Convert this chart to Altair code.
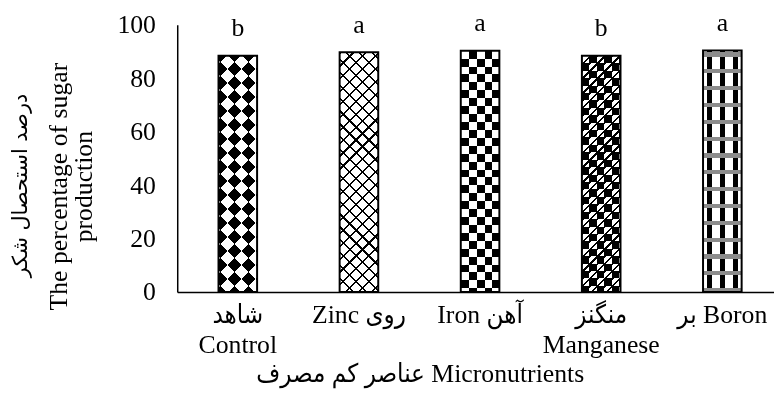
import math
import altair as alt
import pandas as pd

# ---------------- data ----------------
categories = ["Control", "Zinc", "Iron", "Manganese", "Boron"]
labels = ["شاهد|Control", "Zinc روی", "Iron آهن", "منگنز|Manganese", "بر Boron"]
values = [88.4, 89.7, 90.3, 88.4, 90.4]
letters = ["b", "a", "a", "b", "a"]
y_title_fa = "درصد استحصال شکر"
y_title_en = ["The percentage of sugar", "production"]
x_title = "عناصر کم مصرف Micronutrients"

df = pd.DataFrame({"cat": categories, "label": labels, "value": values, "letter": letters})

# ---------------- layout ----------------
FONT = "Liberation Serif, DejaVu Sans Condensed, DejaVu Sans"
FA_FONT = "DejaVu Sans"
PLOT_W = 603
PLOT_H = 270
RANGE_W = 612
STEP = RANGE_W / len(categories)
BAR_W = 39
P_IN = 1 - BAR_W / STEP

x = alt.X(
    "label:N",
    sort=labels,
    scale=alt.Scale(range=[0, RANGE_W], paddingInner=P_IN, paddingOuter=P_IN / 2),
    axis=alt.Axis(
        labelExpr="split(datum.label, '|')",
        labelAngle=0,
        labelBaseline="top",
        labelLineHeight=30,
        labelPadding=10,
        labelFontSize=26,
        labelFont=FONT,
        labelColor="black",
        ticks=False,
        domainColor="black",
        domainWidth=1.5,
        title=x_title,
        titleFont=FONT,
        titleFontSize=26,
        titleFontWeight="normal",
        titleColor="black",
        titleBaseline="alphabetic",
        titleX=245,
        titleY=90,
        grid=False,
    ),
)
y_scale = alt.Scale(domain=[0, 100])
y = alt.Y(
    "value:Q",
    scale=y_scale,
    axis=alt.Axis(
        orient="left",
        values=[0, 20, 40, 60, 80, 100],
        labelFontSize=26,
        labelFont=FONT,
        labelColor="black",
        labelPadding=22,
        ticks=False,
        domainColor="black",
        domainWidth=1.5,
        grid=False,
        title=y_title_en,
        titleFont=FONT,
        titleFontSize=26,
        titleFontWeight="normal",
        titleColor="black",
        titleAngle=270,
        titleAlign="center",
        titleBaseline="top",
        titleLineHeight=25,
        titleX=-133,
        titleY=163,
    ),
)
y_fa = alt.Y(
    "value:Q",
    scale=y_scale,
    axis=alt.Axis(
        orient="left",
        values=[0, 20, 40, 60, 80, 100],
        labels=False,
        ticks=False,
        domain=False,
        grid=False,
        title=y_title_fa,
        titleFont=FA_FONT,
        titleFontSize=21,
        titleFontWeight="normal",
        titleColor="black",
        titleAngle=270,
        titleAlign="center",
        titleBaseline="middle",
        titleX=-158,
        titleY=162,
    ),
)

CLEAR = "rgba(0,0,0,0)"


def stops(length, period, duty, on, off, phase=0.0):
    out = []
    k = -1
    while True:
        s0 = phase + k * period
        if s0 > length:
            break
        s1 = s0 + duty * period
        s2 = s0 + period
        for pos, col in ((s0, on), (s1, on), (s1, off), (s2, off)):
            p = min(max(pos / length, 0.0), 1.0)
            out.append({"offset": round(p, 5), "color": col})
        k += 1
    return out


def grad_x(w, period, duty, on, off, phase=0.0):
    return {"gradient": "linear", "x1": 0, "y1": 0, "x2": 1, "y2": 0,
            "stops": stops(w, period, duty, on, off, phase)}


def grad_y(h, period, duty, on, off, phase=0.0):
    return {"gradient": "linear", "x1": 0, "y1": 0, "x2": 0, "y2": 1,
            "stops": stops(h, period, duty, on, off, phase)}


def grad_diag(w, h, period, duty, on, off, flip=False, phase=0.0):
    c = (w + h) / (w * w + h * h)
    if not flip:
        g = {"x1": 0, "y1": 0, "x2": c * w, "y2": c * h}
    else:
        g = {"x1": 0, "y1": 1, "x2": c * w, "y2": 1 - c * h}
    g["gradient"] = "linear"
    g["stops"] = stops(w + h, period * math.sqrt(2), duty, on, off, phase)
    return g


base = alt.Chart(df)


def layer(cat, fill, blend=None):
    kw = {"fill": fill, "strokeWidth": 0}
    if blend:
        kw["blend"] = blend
    return base.transform_filter(alt.datum.cat == cat).mark_bar(**kw).encode(x=x, y=y)


bars = []
hv = {c: v / 100 * PLOT_H for c, v in zip(categories, values)}
W = BAR_W

# Control: coarse 45-degree checkerboard (white diamonds on black)
h = hv["Control"]
bars.append(layer("Control", grad_diag(W, h, 20, 0.5, "black", "white", phase=8)))
bars.append(layer("Control", grad_diag(W, h, 20, 0.5, "white", CLEAR, flip=True, phase=8), "difference"))

# Zinc: thin diagonal lattice on white
h = hv["Zinc"]
bars.append(layer("Zinc", "white"))
bars.append(layer("Zinc", grad_diag(W, h, 9.2, 0.17, "black", CLEAR)))
bars.append(layer("Zinc", grad_diag(W, h, 9.2, 0.17, "black", CLEAR, flip=True)))

# Iron: square checkerboard
h = hv["Iron"]
bars.append(layer("Iron", grad_x(W, 16, 0.5, "black", "white", 0)))
bars.append(layer("Iron", grad_y(h, 16, 0.5, "white", CLEAR, 0), "difference"))

# Manganese: dark checker with speckles
h = hv["Manganese"]
bars.append(layer("Manganese", grad_x(W, 15, 0.5, "black", "white", 0)))
bars.append(layer("Manganese", grad_y(h, 15, 0.5, "white", CLEAR, 0), "difference"))
bars.append(layer("Manganese", grad_diag(W, h, 5.3, 0.3, "black", CLEAR)))

# Boron: vertical black stripes with grey dotted bands
h = hv["Boron"]
bars.append(layer("Boron", grad_x(W, 13, 0.4, "black", "white", 4)))
bars.append(layer("Boron", grad_y(h, 17, 0.25, "#8c8c8c", CLEAR, 2)))

# outlines
bars.append(base.mark_bar(fillOpacity=0, stroke="black", strokeWidth=2).encode(x=x, y=y))

bar_group = alt.layer(*bars)

# significance letters (this layer also carries the Persian y-axis title)
text_layer = base.mark_text(font=FONT, fontSize=26, baseline="bottom", dy=-15, color="black").encode(
    x=x, y=y_fa, text="letter:N"
)

chart = (
    alt.layer(bar_group, text_layer)
    .resolve_axis(y="independent")
    .properties(
        width=PLOT_W,
        height=PLOT_H,
        padding={"left": 171, "top": 15, "right": 0, "bottom": 98},
        autosize=alt.AutoSizeParams(type="none"),
        background="white",
    )
    .configure_view(strokeWidth=0)
)

chart.save("out.html", embed_options={"renderer": "svg", "actions": False})
